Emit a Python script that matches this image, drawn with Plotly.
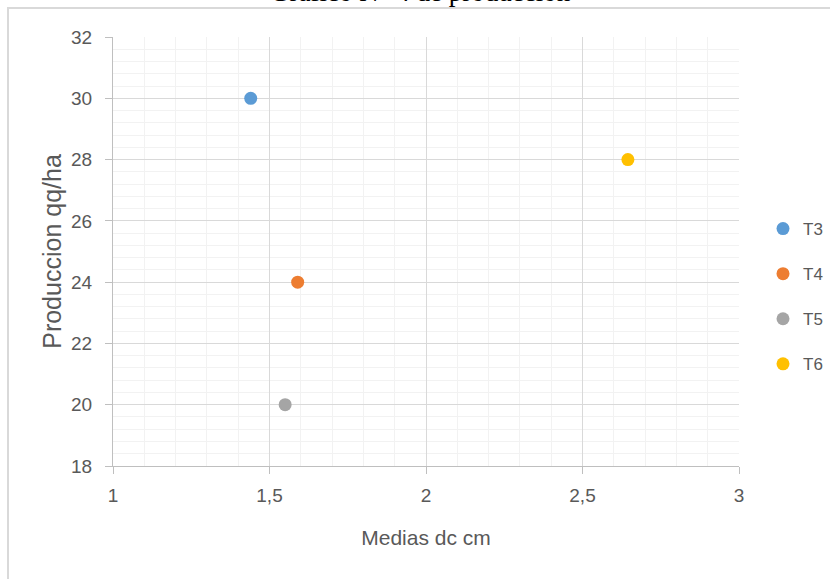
import plotly.graph_objects as go

# Treatment means: diameter (cm) vs yield (qq/ha)
treatments = ["T3", "T4", "T5", "T6"]
medias_dc = [1.44, 1.59, 1.55, 2.645]
produccion = [30, 24, 20, 28]
colors = ["#5B9BD5", "#ED7D31", "#A5A5A5", "#FFC000"]

x_ticks = [1, 1.5, 2, 2.5, 3]
x_tick_text = ["1", "1,5", "2", "2,5", "3"]
y_ticks = [18, 20, 22, 24, 26, 28, 30, 32]

W, H = 830, 579
L, R, T, B = 113, 739, 37, 466


def px_x(p):
    return (p - L) / (R - L)


def px_y(p):
    return (B - p) / (B - T)


font_family = "Liberation Sans, Arial, sans-serif"
text_gray = "#595959"

fig = go.Figure()
for name, xv, yv, c in zip(treatments, medias_dc, produccion, colors):
    fig.add_trace(go.Scatter(
        x=[xv], y=[yv], mode="markers", name=name, legendgroup=name,
        marker=dict(color=c, size=13, line=dict(width=0)),
    ))

axis_common = dict(
    showline=True, linecolor="#BFBFBF", linewidth=1,
    ticks="outside", tickcolor="#BFBFBF", ticklen=7,
    gridcolor="#D9D9D9", gridwidth=1,
    zeroline=False,
    tickfont=dict(family=font_family, size=19, color=text_gray),
)

fig.update_layout(
    width=W, height=H,
    margin=dict(l=L, r=W - R, t=T, b=H - B, autoexpand=False),
    paper_bgcolor="white", plot_bgcolor="white",
    showlegend=True,
    legend=dict(
        x=px_x(763), y=px_y(211), xanchor="left", yanchor="top",
        font=dict(family=font_family, size=17, color=text_gray),
        tracegroupgap=20, itemwidth=30, bgcolor="rgba(0,0,0,0)",
    ),
    xaxis=dict(
        range=[1, 3], tickvals=x_ticks, ticktext=x_tick_text,
        ticklabelstandoff=5,
        minor=dict(dtick=0.1, showgrid=True, gridcolor="#F2F2F2", ticks=""),
        title=dict(text="Medias dc cm", standoff=25,
                   font=dict(family=font_family, size=21, color=text_gray)),
        **axis_common,
    ),
    yaxis=dict(
        range=[18, 32], tickvals=y_ticks,
        ticklabelstandoff=9,
        minor=dict(dtick=0.4, showgrid=True, gridcolor="#F2F2F2", ticks=""),
        title=dict(text="Produccion qq/ha", standoff=2,
                   font=dict(family=font_family, size=25, color=text_gray)),
        **axis_common,
    ),
    shapes=[
        dict(type="rect", xref="paper", yref="paper",
             x0=px_x(8), x1=px_x(900), y0=px_y(700), y1=px_y(8),
             line=dict(color="#D9D9D9", width=2), fillcolor="rgba(0,0,0,0)",
             layer="below"),
    ],
    annotations=[
        dict(text="Gráfico N° 4 de producción", xref="paper", yref="paper",
             x=px_x(420), y=px_y(9.0), xanchor="center", yanchor="bottom",
             showarrow=False,
             font=dict(family="Liberation Serif, Times New Roman, serif",
                       size=27, color="black")),
    ],
)

fig.write_html("out.html")
